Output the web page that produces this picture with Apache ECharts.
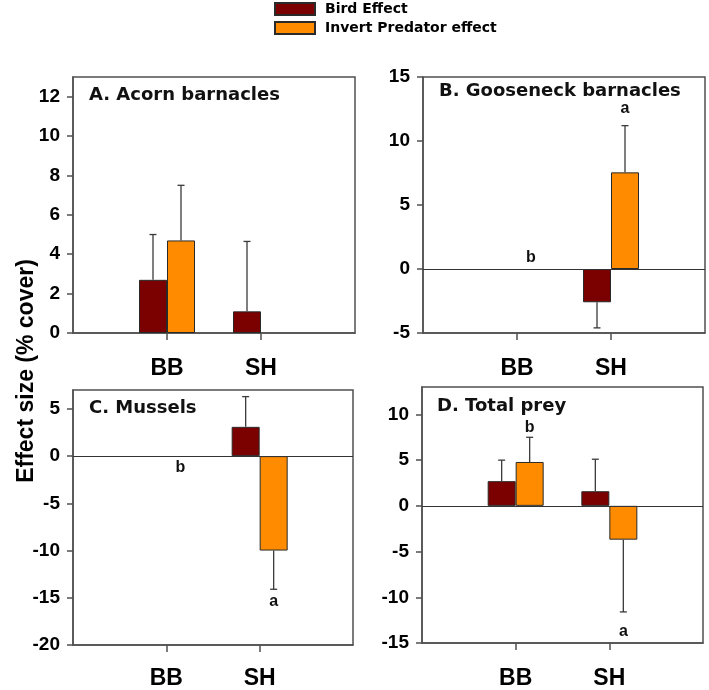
<!DOCTYPE html>
<html>
<head>
<meta charset="utf-8">
<title>Effect size (% cover)</title>
<script src="https://cdn.jsdelivr.net/npm/echarts@6/dist/echarts.min.js"></script>
<style>
  html, body { margin: 0; padding: 0; background: #fff; }
  #chart { width: 709px; height: 690px; }
</style>
</head>
<body>
<div id="chart"></div>
<script>
// sites on the x axis
var sites = ['BB', 'SH'];
var seriesNames = ['Bird Effect', 'Invert Predator effect'];

// A. Acorn barnacles
var birdA = [2.7, 1.1];
var birdErrA = [2.3, 3.55];
var invertA = [4.7, null];
var invertErrA = [2.8, null];
var ticksA = [0, 2, 4, 6, 8, 10, 12];

// B. Gooseneck barnacles
var birdB = [null, -2.6];
var birdErrB = [null, 2.0];
var invertB = [null, 7.55];
var invertErrB = [null, 3.65];
var ticksB = [-5, 0, 5, 10, 15];
var lettersB = ['b', 'a'];
var letterYB = [0.9, 12.5];

// C. Mussels
var birdC = [null, 3.1];
var birdErrC = [null, 3.2];
var invertC = [null, -10.0];
var invertErrC = [null, 4.1];
var ticksC = [-20, -15, -10, -5, 0, 5];
var lettersC = ['b', 'a'];
var letterYC = [-1.2, -15.4];

// D. Total prey
var birdD = [2.7, 1.6];
var birdErrD = [2.3, 3.5];
var invertD = [4.8, -3.7];
var invertErrD = [2.7, 7.9];
var ticksD = [-15, -10, -5, 0, 5, 10];
var lettersD = ['b', 'a'];
var letterYD = [8.6, -13.7];

var BIRD = '#7b0000';
var INVERT = '#ff8c00';
var FRAME = '#505050';

var panels = [
  { title: 'A. Acorn barnacles', bird: birdA, birdErr: birdErrA, inv: invertA, invErr: invertErrA,
    ticks: ticksA, min: 0, max: 13, letters: [], letterY: [],
    grid: { left: 73, top: 77, width: 282, height: 256 }, titleX: 89, titleY: 95, labelMargin: 24 },
  { title: 'B. Gooseneck barnacles', bird: birdB, birdErr: birdErrB, inv: invertB, invErr: invertErrB,
    ticks: ticksB, min: -5, max: 15, letters: lettersB, letterY: letterYB,
    grid: { left: 423, top: 77, width: 282, height: 256 }, titleX: 439, titleY: 91, labelMargin: 24 },
  { title: 'C. Mussels', bird: birdC, birdErr: birdErrC, inv: invertC, invErr: invertErrC,
    ticks: ticksC, min: -20, max: 7, letters: lettersC, letterY: letterYC,
    grid: { left: 73, top: 390, width: 280, height: 257 }, titleX: 89, titleY: 408, labelMargin: 22 },
  { title: 'D. Total prey', bird: birdD, birdErr: birdErrD, inv: invertD, invErr: invertErrD,
    ticks: ticksD, min: -15, max: 13, letters: lettersD, letterY: letterYD,
    grid: { left: 422, top: 387, width: 281, height: 256 }, titleX: 437, titleY: 406, labelMargin: 24 }
];

var axisCats = [''].concat(sites).concat(['']);

function padded(arr) {
  return [null].concat(arr).concat([null]);
}

// one-sided error bars, drawn away from zero
function errorBars(gi, values, errs, shift) {
  var data = [];
  values.forEach(function (v, i) {
    if (v !== null && errs[i] !== null) data.push([i + 1, v, errs[i]]);
  });
  return {
    type: 'custom', xAxisIndex: gi, yAxisIndex: gi, z: 3, silent: true,
    data: data, encode: { x: 0, y: 1 },
    renderItem: function (params, api) {
      var v = api.value(1), e = api.value(2);
      var end = v < 0 ? v - e : v + e;
      var p0 = api.coord([api.value(0), v]);
      var p1 = api.coord([api.value(0), end]);
      var x = p0[0] + shift;
      var st = { stroke: '#3a3a3a', lineWidth: 1.3 };
      return { type: 'group', children: [
        { type: 'line', shape: { x1: x, y1: p0[1], x2: x, y2: p1[1] }, style: st },
        { type: 'line', shape: { x1: x - 3.5, y1: p1[1], x2: x + 3.5, y2: p1[1] }, style: st }
      ] };
    }
  };
}

// significance letters over the invert bars
function letterSeries(gi, letters, ys) {
  var data = letters.map(function (t, i) { return [i + 1, ys[i]]; });
  return {
    type: 'custom', xAxisIndex: gi, yAxisIndex: gi, z: 4, silent: true,
    data: data, encode: { x: 0, y: 1 },
    renderItem: function (params, api) {
      var p = api.coord([api.value(0), api.value(1)]);
      return { type: 'text', x: p[0] + 14, y: p[1], style: {
        text: letters[params.dataIndex], align: 'center', verticalAlign: 'middle',
        fontFamily: 'Liberation Sans', fontWeight: 'bold', fontSize: 16, fill: '#111'
      } };
    }
  };
}

var grids = [], xAxes = [], yAxes = [], series = [], graphics = [];

panels.forEach(function (p, gi) {
  grids.push(Object.assign({ show: true, borderColor: FRAME, borderWidth: 1.5, backgroundColor: '#fff' }, p.grid));
  xAxes.push({
    type: 'category', gridIndex: gi, data: axisCats, boundaryGap: false,
    axisLine: { onZero: false, lineStyle: { color: FRAME, width: 1.5 } },
    axisTick: { length: 7, interval: function (i) { return i === 1 || i === 2; }, lineStyle: { color: FRAME, width: 1.5 } },
    axisLabel: { interval: 0, margin: p.labelMargin, color: '#000', fontFamily: 'Liberation Sans', fontWeight: 'bold', fontSize: 23 },
    splitLine: { show: false }
  });
  yAxes.push({
    type: 'value', gridIndex: gi, min: p.min, max: p.max,
    axisLine: { show: true, lineStyle: { color: FRAME, width: 1.5 } },
    axisTick: { show: true, length: 6, customValues: p.ticks, lineStyle: { color: FRAME, width: 1.5 } },
    axisLabel: { customValues: p.ticks, margin: 13, color: '#000', fontFamily: 'Liberation Sans', fontWeight: 'bold', fontSize: 19 },
    splitLine: { show: false }
  });
  var birdBar = {
    name: seriesNames[0], type: 'bar', xAxisIndex: gi, yAxisIndex: gi,
    data: padded(p.bird), barWidth: 28, barGap: '0%',
    itemStyle: { color: BIRD, borderColor: '#2a2a2a', borderWidth: 1 }, silent: true
  };
  if (p.min < 0) {
    birdBar.markLine = {
      silent: true, symbol: ['none', 'none'], label: { show: false },
      lineStyle: { color: '#333', width: 1, type: 'solid' },
      data: [{ yAxis: 0 }]
    };
  }
  series.push(birdBar);
  series.push({
    name: seriesNames[1], type: 'bar', xAxisIndex: gi, yAxisIndex: gi,
    data: padded(p.inv), barWidth: 28, barGap: '0%',
    itemStyle: { color: INVERT, borderColor: '#2a2a2a', borderWidth: 1 }, silent: true
  });
  series.push(errorBars(gi, p.bird, p.birdErr, -14));
  series.push(errorBars(gi, p.inv, p.invErr, 14));
  if (p.letters.length) series.push(letterSeries(gi, p.letters, p.letterY));
  graphics.push({
    type: 'text', x: p.titleX, y: p.titleY, z: 10,
    style: { text: p.title, align: 'left', verticalAlign: 'middle', fill: '#111',
      fontFamily: 'DejaVu Sans', fontWeight: 'bold', fontSize: 18 }
  });
});

graphics.push({
  type: 'text', x: 27, y: 371, rotation: Math.PI / 2, z: 10,
  style: { text: 'Effect size (% cover)', align: 'center', verticalAlign: 'middle', fill: '#000',
    fontFamily: 'Liberation Sans', fontWeight: 'bold', fontSize: 23 }
});

var chart = echarts.init(document.getElementById('chart'));
chart.setOption({
  backgroundColor: '#fff',
  animation: false,
  legend: {
    data: seriesNames, orient: 'vertical', left: 274, top: 2, padding: 0,
    itemWidth: 40, itemHeight: 12, itemGap: 5, icon: 'rect',
    selectedMode: false,
    textStyle: { fontFamily: 'DejaVu Sans', fontWeight: 'bold', fontSize: 14, color: '#000', padding: [0, 0, 0, 5] }
  },
  grid: grids,
  xAxis: xAxes,
  yAxis: yAxes,
  series: series,
  graphic: graphics
});
</script>
</body>
</html>
